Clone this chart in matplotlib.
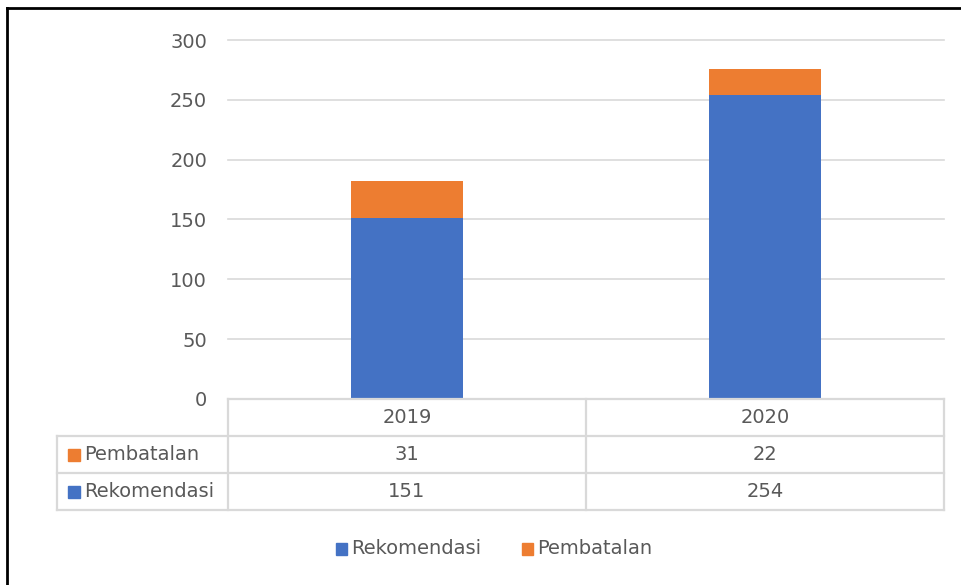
import matplotlib.pyplot as plt
from matplotlib.lines import Line2D
from matplotlib.patches import Rectangle

plt.rcParams['font.family'] = ['Liberation Sans Narrow', 'DejaVu Sans']

years = ['2019', '2020']
rekomendasi = [151, 254]
pembatalan = [31, 22]
yticks = [0, 50, 100, 150, 200, 250, 300]

blue = '#4472C4'
orange = '#ED7D31'
grid = '#D9D9D9'
txt = '#595959'

W, H = 961, 585
fig = plt.figure(figsize=(W / 100, H / 100), dpi=100)

# plot area in pixels
x0, x1 = 228, 944
y_top, y_bot = 40, 399
ax = fig.add_axes([x0 / W, 1 - y_bot / H, (x1 - x0) / W, (y_bot - y_top) / H])

xs = range(len(years))
ax.bar(xs, rekomendasi, width=0.315, color=blue, zorder=3)
ax.bar(xs, pembatalan, bottom=rekomendasi, width=0.315, color=orange, zorder=3)
ax.set_xlim(-0.5, len(years) - 0.5)
ax.set_ylim(0, 300)
ax.set_yticks(yticks)
ax.yaxis.grid(True, color=grid, linewidth=1.2)
for gl in ax.get_ygridlines():
    gl.set_clip_on(False)
ax.set_axisbelow(True)
ax.tick_params(axis='y', length=0, pad=15, labelsize=14, labelcolor=txt)
ax.set_xticks([])
for s in ax.spines.values():
    s.set_visible(False)

# data table underneath
def fx(px):
    return px / W

def fy(py):
    return 1 - py / H

lab_x = 57
rows = [399, 436, 473, 510]
col_edges = [x0 + (x1 - x0) * i / len(years) for i in range(len(years) + 1)]
lw = 1.6
# horizontal lines
fig.add_artist(Line2D([fx(x0), fx(x1)], [fy(rows[0])] * 2, color=grid, lw=lw))
for r in rows[1:]:
    fig.add_artist(Line2D([fx(lab_x), fx(x1)], [fy(r)] * 2, color=grid, lw=lw))
# vertical lines
for c in col_edges:
    fig.add_artist(Line2D([fx(c)] * 2, [fy(rows[0]), fy(rows[-1])], color=grid, lw=lw))
fig.add_artist(Line2D([fx(lab_x)] * 2, [fy(rows[1]), fy(rows[-1])], color=grid, lw=lw))

for i, y in enumerate(years):
    cx = (col_edges[i] + col_edges[i + 1]) / 2
    fig.text(fx(cx), fy((rows[0] + rows[1]) / 2), y, ha='center', va='center',
             fontsize=14, color=txt)
    fig.text(fx(cx), fy((rows[1] + rows[2]) / 2), str(pembatalan[i]), ha='center',
             va='center', fontsize=14, color=txt)
    fig.text(fx(cx), fy((rows[2] + rows[3]) / 2), str(rekomendasi[i]), ha='center',
             va='center', fontsize=14, color=txt)

for name, col, (ra, rb) in [('Pembatalan', orange, (rows[1], rows[2])),
                            ('Rekomendasi', blue, (rows[2], rows[3]))]:
    cy = (ra + rb) / 2
    fig.add_artist(Rectangle((fx(68), fy(cy + 6)), fx(12), 12 / H, color=col))
    fig.text(fx(84), fy(cy), name, ha='left', va='center', fontsize=14, color=txt)

# legend
for name, col, lx in [('Rekomendasi', blue, 336), ('Pembatalan', orange, 522)]:
    fig.add_artist(Rectangle((fx(lx), fy(555)), fx(11), 12 / H, color=col))
    fig.text(fx(lx + 15), fy(549), name, ha='left', va='center', fontsize=14, color=txt)

# outer frame (top and left only visible)
fig.add_artist(Line2D([fx(7), 1], [fy(8)] * 2, color='black', lw=2))
fig.add_artist(Line2D([fx(7)] * 2, [fy(8), 0], color='black', lw=2))

fig.savefig('out.png', dpi=100)
